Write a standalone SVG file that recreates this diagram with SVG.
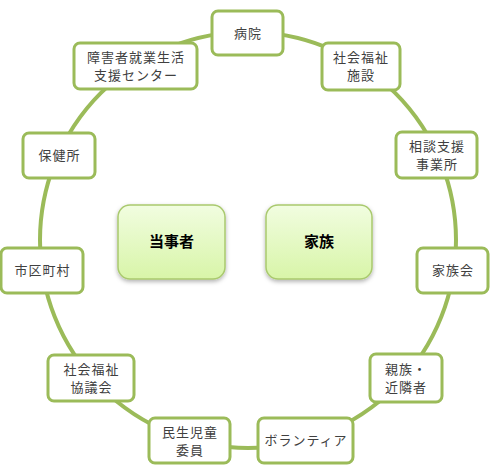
<svg xmlns="http://www.w3.org/2000/svg" width="490" height="475" viewBox="0 0 490 475">
<defs>
<linearGradient id="cg" x1="0" y1="0" x2="0" y2="1">
<stop offset="0" stop-color="#f1fde0"/>
<stop offset="1" stop-color="#d8f5a8"/>
</linearGradient>
<filter id="sh" x="-20%" y="-20%" width="140%" height="150%">
<feDropShadow dx="0" dy="2" stdDeviation="2" flood-color="#000" flood-opacity="0.3"/>
</filter>
</defs>
<style>
.n rect{fill:#fff;stroke:#9bbb59;stroke-width:3}
.n text{font-family:"Noto Sans CJK JP","Noto Sans",sans-serif;font-size:13px;fill:#404040;text-anchor:middle;letter-spacing:1px}
.c rect{fill:url(#cg);stroke:#a9c96e;stroke-width:1.5;filter:url(#sh)}
.c text{font-family:"Noto Sans CJK JP","Noto Sans",sans-serif;font-size:15px;font-weight:bold;fill:#000;text-anchor:middle}
</style>
<rect width="490" height="475" fill="#fff"/>
<g id="connectors">
<circle cx="248" cy="240" r="208" fill="none" stroke="#9bbb59" stroke-width="4"/>
</g>
<g id="toujisha" class="c"><rect x="118" y="205" width="107" height="74" rx="12"/><text x="171.5" y="247">当事者</text></g>
<g id="kazoku" class="c"><rect x="266" y="205" width="106" height="74" rx="12"/><text x="319" y="247">家族</text></g>
<g id="byouin" class="n"><rect x="212" y="11" width="71" height="44" rx="6"/><text x="248" y="38">病院</text></g>
<g id="shougai" class="n"><rect x="74" y="43" width="123" height="46" rx="6"/><text x="136" y="62">障害者就業生活</text><text x="136" y="80">支援センター</text></g>
<g id="shisetsu" class="n"><rect x="322" y="43" width="78" height="47" rx="6"/><text x="361" y="62">社会福祉</text><text x="361" y="80">施設</text></g>
<g id="soudan" class="n"><rect x="396" y="132" width="81" height="46" rx="6"/><text x="437" y="151">相談支援</text><text x="437" y="169">事業所</text></g>
<g id="hokenjo" class="n"><rect x="23" y="133" width="72" height="45" rx="6"/><text x="59.5" y="160">保健所</text></g>
<g id="shikuchouson" class="n"><rect x="1" y="248" width="82" height="45" rx="6"/><text x="42.5" y="275">市区町村</text></g>
<g id="kazokukai" class="n"><rect x="417" y="248" width="71" height="45" rx="6"/><text x="453" y="275">家族会</text></g>
<g id="shinzoku" class="n"><rect x="370" y="354" width="72" height="48" rx="6"/><text x="406" y="374">親族・</text><text x="406" y="392">近隣者</text></g>
<g id="shakyo" class="n"><rect x="48" y="355" width="86" height="46" rx="6"/><text x="91.5" y="374">社会福祉</text><text x="91.5" y="392">協議会</text></g>
<g id="minsei" class="n"><rect x="149" y="418" width="81" height="45" rx="6"/><text x="190" y="437">民生児童</text><text x="190" y="455">委員</text></g>
<g id="volunteer" class="n"><rect x="258" y="418" width="95" height="45" rx="6"/><text x="306" y="445">ボランティア</text></g>
</svg>
